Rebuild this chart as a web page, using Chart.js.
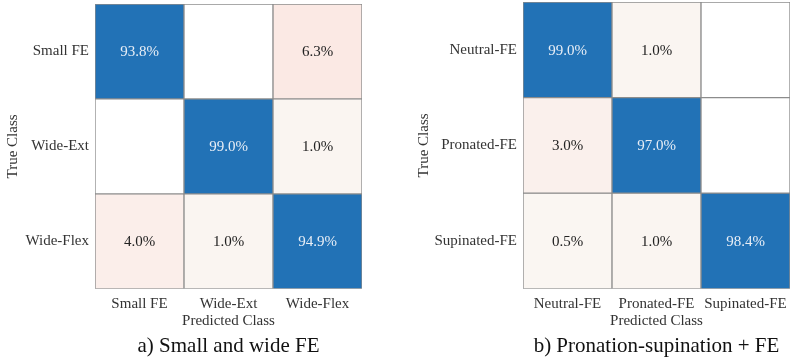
<!DOCTYPE html>
<html><head><meta charset="utf-8">
<script src="https://cdn.jsdelivr.net/npm/chart.js@4/dist/chart.umd.min.js"></script>
<style>
html,body{margin:0;padding:0;background:#fff;}
#wrap{position:relative;width:791px;height:363px;overflow:hidden;}
.box{position:absolute;top:0;height:363px;}
</style></head><body>
<div id="wrap">
  <div class="box" style="left:0;width:395px"><canvas id="cA"></canvas></div>
  <div class="box" style="left:395px;width:396px"><canvas id="cB"></canvas></div>
</div>
<script>
// ---- data ----
const classesA = ['Small FE', 'Wide-Ext', 'Wide-Flex'];
const rowSmallFE = [93.8, 0, 6.3];
const rowWideExt = [0, 99.0, 1.0];
const rowWideFlex = [4.0, 1.0, 94.9];
const captionA = 'a) Small and wide FE';

const classesB = ['Neutral-FE', 'Pronated-FE', 'Supinated-FE'];
const rowNeutral = [99.0, 1.0, 0];
const rowPronated = [3.0, 97.0, 0];
const rowSupinated = [0.5, 1.0, 98.4];
const captionB = 'b) Pronation-supination + FE';

const xTitle = 'Predicted Class';
const yTitle = 'True Class';

// ---- styling helpers ----
const SERIF = "'Liberation Serif','Times New Roman',serif";
function cellColor(v) {
  if (v >= 50) return '#2272b6';
  if (v <= 0) return '#ffffff';
  const t = Math.min(1, Math.max(0, (v - 0.5) / (6.3 - 0.5)));
  const a = [250, 246, 242], b = [251, 233, 228];
  const c = a.map((x, i) => Math.round(x + (b[i] - x) * t));
  return 'rgb(' + c.join(',') + ')';
}

const cellText = {
  id: 'cellText',
  afterDatasetsDraw(chart) {
    const {ctx, scales: {x, y}} = chart;
    const rows = chart.options.plugins.cellText.rows;
    ctx.save();
    ctx.font = '15px ' + SERIF;
    ctx.textAlign = 'center';
    ctx.textBaseline = 'middle';
    rows.forEach((row, i) => {
      row.forEach((v, j) => {
        if (v <= 0) return;
        ctx.fillStyle = v >= 50 ? '#e8eef6' : '#222222';
        ctx.fillText(v.toFixed(1) + '%', x.getPixelForValue(j), y.getPixelForValue(i + 0.5) + 1);
      });
    });
    ctx.restore();
  }
};

function makeChart(id, classes, rows, caption, geo) {
  const datasets = rows.map((row, i) => ({
    data: row.map(() => [i, i + 1]),
    backgroundColor: row.map(cellColor),
    borderColor: '#8c8c8c',
    borderWidth: 1,
    borderSkipped: false,
    barPercentage: 1,
    categoryPercentage: 1,
    grouped: false
  }));
  return new Chart(document.getElementById(id), {
    type: 'bar',
    data: {labels: classes, datasets},
    plugins: [cellText],
    options: {
      responsive: true,
      maintainAspectRatio: false,
      animation: false,
      layout: {padding: {left: 0, right: geo.padRight, top: geo.padTop, bottom: 0}},
      plugins: {
        legend: {display: false},
        tooltip: {enabled: false},
        cellText: {rows},
        title: {
          display: true,
          text: caption,
          position: 'bottom',
          fullSize: false,
          color: '#111',
          font: {family: SERIF, size: 21, weight: 'normal', lineHeight: 1.2},
          padding: {top: 0, bottom: 4}
        }
      },
      scales: {
        x: {
          type: 'category',
          offset: true,
          grid: {display: false, drawTicks: false},
          border: {display: false},
          ticks: {color: '#333', font: {family: SERIF, size: 15}, padding: 6, maxRotation: 0, autoSkip: false},
          title: {display: true, text: xTitle, color: '#333', font: {family: SERIF, size: 15}, padding: {top: 0, bottom: 4}},
          afterFit(s) { s.height = 45; s.paddingLeft = 0; s.paddingRight = 0; }
        },
        y: {
          type: 'linear',
          min: 0, max: 3,
          reverse: true,
          grid: {display: false, drawTicks: false},
          border: {display: false},
          afterBuildTicks(s) { s.ticks = [{value: 0.5}, {value: 1.5}, {value: 2.5}]; },
          ticks: {
            color: '#333',
            font: {family: SERIF, size: 15},
            padding: 6,
            callback: (v) => classes[Math.floor(v)]
          },
          title: {display: true, text: yTitle, color: '#333', font: {family: SERIF, size: 15}, padding: {top: geo.yTitlePad, bottom: 0}},
          afterFit(s) { s.width = geo.yWidth; s.paddingTop = 0; s.paddingBottom = 0; }
        }
      }
    }
  });
}

makeChart('cA', classesA, [rowSmallFE, rowWideExt, rowWideFlex], captionA,
  {padRight: 33, padTop: 4, yWidth: 95, yTitlePad: 4});
makeChart('cB', classesB, [rowNeutral, rowPronated, rowSupinated], captionB,
  {padRight: 1, padTop: 2, yWidth: 128, yTitlePad: 20});
</script>
</body></html>
